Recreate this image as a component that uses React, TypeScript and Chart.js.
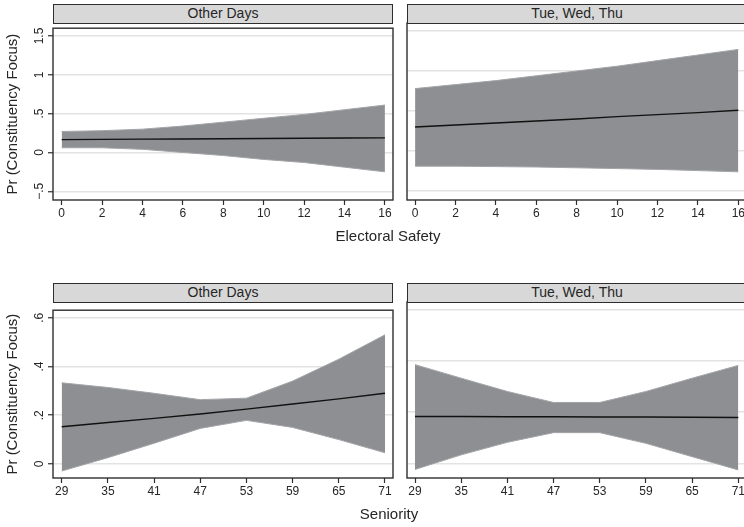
import React, { useEffect, useRef } from "react";
import { Chart, registerables } from "chart.js";

Chart.register(...registerables);

// ---- data ----
const safetyX = [0, 2, 4, 6, 8, 10, 12, 14, 16];
const otherSafetyMean = [0.165, 0.168, 0.171, 0.174, 0.177, 0.18, 0.183, 0.186, 0.188];
const otherSafetyUpper = [0.27, 0.28, 0.3, 0.34, 0.39, 0.44, 0.49, 0.55, 0.61];
const otherSafetyLower = [0.06, 0.06, 0.04, 0.0, -0.04, -0.09, -0.13, -0.19, -0.25];
const tueSafetyMean = [0.3, 0.325, 0.35, 0.375, 0.4, 0.43, 0.455, 0.48, 0.51];
const tueSafetyUpper = [0.78, 0.83, 0.88, 0.94, 1.0, 1.06, 1.13, 1.2, 1.27];
const tueSafetyLower = [-0.19, -0.19, -0.195, -0.2, -0.21, -0.22, -0.23, -0.245, -0.26];

const seniorityX = [29, 35, 41, 47, 53, 59, 65, 71];
const otherSenMean = [0.153, 0.17, 0.187, 0.205, 0.225, 0.246, 0.267, 0.29];
const otherSenUpper = [0.333, 0.314, 0.29, 0.264, 0.27, 0.34, 0.43, 0.53];
const otherSenLower = [-0.029, 0.026, 0.085, 0.146, 0.179, 0.15, 0.1, 0.046];
const tueSenMean = [0.183, 0.183, 0.182, 0.182, 0.181, 0.181, 0.18, 0.179];
const tueSenUpper = [0.386, 0.333, 0.281, 0.238, 0.238, 0.281, 0.333, 0.383];
const tueSenLower = [-0.024, 0.033, 0.082, 0.12, 0.12, 0.078, 0.026, -0.026];

const safetyYTicks = [-0.5, 0, 0.5, 1, 1.5];
const seniorityYTicks = [0, 0.2, 0.4, 0.6];

const panelTitles = ["Other Days", "Tue, Wed, Thu"];
const xTitles = ["Electoral Safety", "Seniority"];
const yTitle = "Pr (Constituency Focus)";

// ---- styling ----
const FONT = "'Liberation Sans', Arial, Helvetica, sans-serif";
const BAND = "#8e8f93";
const BAND_EDGE = "#a3a4a7";
const FRAME = "#2e2e2e";
const GRID = "#e3e3e3";
const TEXT = "#262626";

const fmt = (v: number) => {
  if (Math.abs(v) < 1e-9) return "0";
  const s = Math.abs(v).toString().replace(/^0\./, ".");
  return (v < 0 ? "\u2212" : "") + s;
};

const framePlugin = {
  id: "frame",
  afterDatasetsDraw(chart: any) {
    const { ctx, chartArea: a } = chart;
    ctx.save();
    ctx.strokeStyle = FRAME;
    ctx.lineWidth = 1.4;
    ctx.strokeRect(a.left, a.top, a.right - a.left, a.bottom - a.top);
    ctx.restore();
  },
};

type PanelProps = {
  x: number[];
  mean: number[];
  upper: number[];
  lower: number[];
  xMin: number;
  xMax: number;
  yMin: number;
  yMax: number;
  yTicks: number[];
  showY: boolean;
  L: number;
  T: number;
  R: number;
  B: number;
  yPad: number;
};

function Panel(p: PanelProps) {
  const ref = useRef<HTMLCanvasElement | null>(null);
  const yAxisW = p.showY ? 53 : 7;
  const padTop = 2;
  const padR = 3;
  const xAxisH = 30;
  const cw = p.R - p.L + yAxisW + padR;
  const ch = p.B - p.T + padTop + xAxisH;

  useEffect(() => {
    if (!ref.current) return;
    const pts = (ys: number[]) => p.x.map((xv, i) => ({ x: xv, y: ys[i] }));
    const chart = new Chart(ref.current, {
      type: "line",
      data: {
        datasets: [
          {
            data: pts(p.upper),
            borderColor: BAND_EDGE,
            borderWidth: 1,
            backgroundColor: BAND,
            fill: "+1",
            pointRadius: 0,
            tension: 0,
            order: 2,
          },
          {
            data: pts(p.lower),
            borderColor: BAND_EDGE,
            borderWidth: 1,
            backgroundColor: BAND,
            fill: false,
            pointRadius: 0,
            tension: 0,
            order: 1,
          },
          {
            data: pts(p.mean),
            borderColor: "#111111",
            borderWidth: 1.4,
            fill: false,
            pointRadius: 0,
            tension: 0,
            order: 0,
          },
        ],
      },
      options: {
        responsive: false,
        animation: false,
        devicePixelRatio: 1,
        layout: { padding: { top: padTop, right: padR, left: 0, bottom: 0 } },
        plugins: { legend: { display: false }, tooltip: { enabled: false } },
        scales: {
          x: {
            type: "linear",
            min: p.xMin,
            max: p.xMax,
            afterBuildTicks: (s: any) => {
              s.ticks = p.x.map((v) => ({ value: v }));
            },
            afterFit: (s: any) => {
              s.height = xAxisH;
            },
            border: { display: false },
            grid: {
              drawOnChartArea: false,
              drawTicks: true,
              tickLength: 5,
              tickColor: FRAME,
              tickWidth: 1.2,
            },
            ticks: {
              color: TEXT,
              font: { family: FONT, size: 12 },
              padding: 1,
              maxRotation: 0,
              autoSkip: false,
              callback: (v: any) => String(v),
            },
          },
          y: {
            type: "linear",
            min: p.yMin,
            max: p.yMax,
            afterBuildTicks: (s: any) => {
              s.ticks = p.yTicks.map((v) => ({ value: v }));
            },
            afterFit: (s: any) => {
              s.width = yAxisW;
            },
            border: { display: false },
            grid: {
              color: GRID,
              lineWidth: 1.5,
              drawTicks: p.showY,
              tickLength: p.showY ? 5 : 0,
              tickColor: FRAME,
              tickWidth: 1.2,
            },
            ticks: {
              display: p.showY,
              color: TEXT,
              font: { family: FONT, size: 12 },
              padding: p.yPad,
              minRotation: 90,
              maxRotation: 90,
              crossAlign: "center",
              autoSkip: false,
              callback: (v: any) => fmt(Number(v)),
            },
            title: {
              display: p.showY,
              text: yTitle,
              color: TEXT,
              font: { family: FONT, size: 15 },
              padding: { top: 4, bottom: 0 },
            },
          },
        },
      } as any,
      plugins: [framePlugin],
    });
    return () => chart.destroy();
  }, []);

  return (
    <canvas
      ref={ref}
      width={cw}
      height={ch}
      style={{
        position: "absolute",
        left: p.L - yAxisW,
        top: p.T - padTop,
        width: cw,
        height: ch,
      }}
    />
  );
}

function Header({ text, L, T, R }: { text: string; L: number; T: number; R: number }) {
  return (
    <div
      style={{
        position: "absolute",
        left: L,
        top: T - 19,
        width: R - L,
        height: 20,
        boxSizing: "border-box",
        border: `1.4px solid ${FRAME}`,
        background: "#d8d8d8",
        color: TEXT,
        font: `14px ${FONT}`,
        lineHeight: "17px",
        textAlign: "center",
        whiteSpace: "nowrap",
      }}
    >
      {text}
    </div>
  );
}

function XTitle({ text, cx, cy }: { text: string; cx: number; cy: number }) {
  return (
    <div
      style={{
        position: "absolute",
        left: cx - 150,
        top: cy - 10,
        width: 300,
        height: 20,
        lineHeight: "20px",
        textAlign: "center",
        color: TEXT,
        font: `15px ${FONT}`,
      }}
    >
      {text}
    </div>
  );
}

export default function App() {
  const leftL = 53,
    leftR = 393,
    rightL = 407,
    rightR = 747;
  const topT = 23,
    topB = 200,
    botT = 302,
    botB = 478;
  const sXMin = -0.43,
    sXMax = 16.4;
  const nXMin = 27.87,
    nXMax = 72.04;
  return (
    <div
      style={{
        position: "fixed",
        left: 0,
        top: 0,
        width: 744,
        height: 527,
        overflow: "hidden",
        background: "#ffffff",
      }}
    >
      <Panel x={safetyX} mean={otherSafetyMean} upper={otherSafetyUpper} lower={otherSafetyLower}
        xMin={sXMin} xMax={sXMax} yMin={-0.6125} yMax={1.6} yTicks={safetyYTicks} showY={true}
        L={leftL} T={topT} R={leftR} B={topB} yPad={0} />
      <Panel x={safetyX} mean={tueSafetyMean} upper={tueSafetyUpper} lower={tueSafetyLower}
        xMin={sXMin + 0.03} xMax={sXMax + 0.03} yMin={-0.6125} yMax={1.6} yTicks={safetyYTicks} showY={false}
        L={rightL} T={topT} R={rightR} B={topB} yPad={0} />
      <Panel x={seniorityX} mean={otherSenMean} upper={otherSenUpper} lower={otherSenLower}
        xMin={nXMin} xMax={nXMax} yMin={-0.0575} yMax={0.631} yTicks={seniorityYTicks} showY={true}
        L={leftL} T={botT} R={leftR} B={botB} yPad={3} />
      <Panel x={seniorityX} mean={tueSenMean} upper={tueSenUpper} lower={tueSenLower}
        xMin={nXMin + 0.09} xMax={nXMax + 0.09} yMin={-0.0575} yMax={0.631} yTicks={seniorityYTicks} showY={false}
        L={rightL} T={botT} R={rightR} B={botB} yPad={0} />
      <Header text={panelTitles[0]} L={leftL} T={topT} R={leftR} />
      <Header text={panelTitles[1]} L={rightL} T={topT} R={rightR} />
      <Header text={panelTitles[0]} L={leftL} T={botT} R={leftR} />
      <Header text={panelTitles[1]} L={rightL} T={botT} R={rightR} />
      <XTitle text={xTitles[0]} cx={388} cy={237} />
      <XTitle text={xTitles[1]} cx={389} cy={515} />
    </div>
  );
}
